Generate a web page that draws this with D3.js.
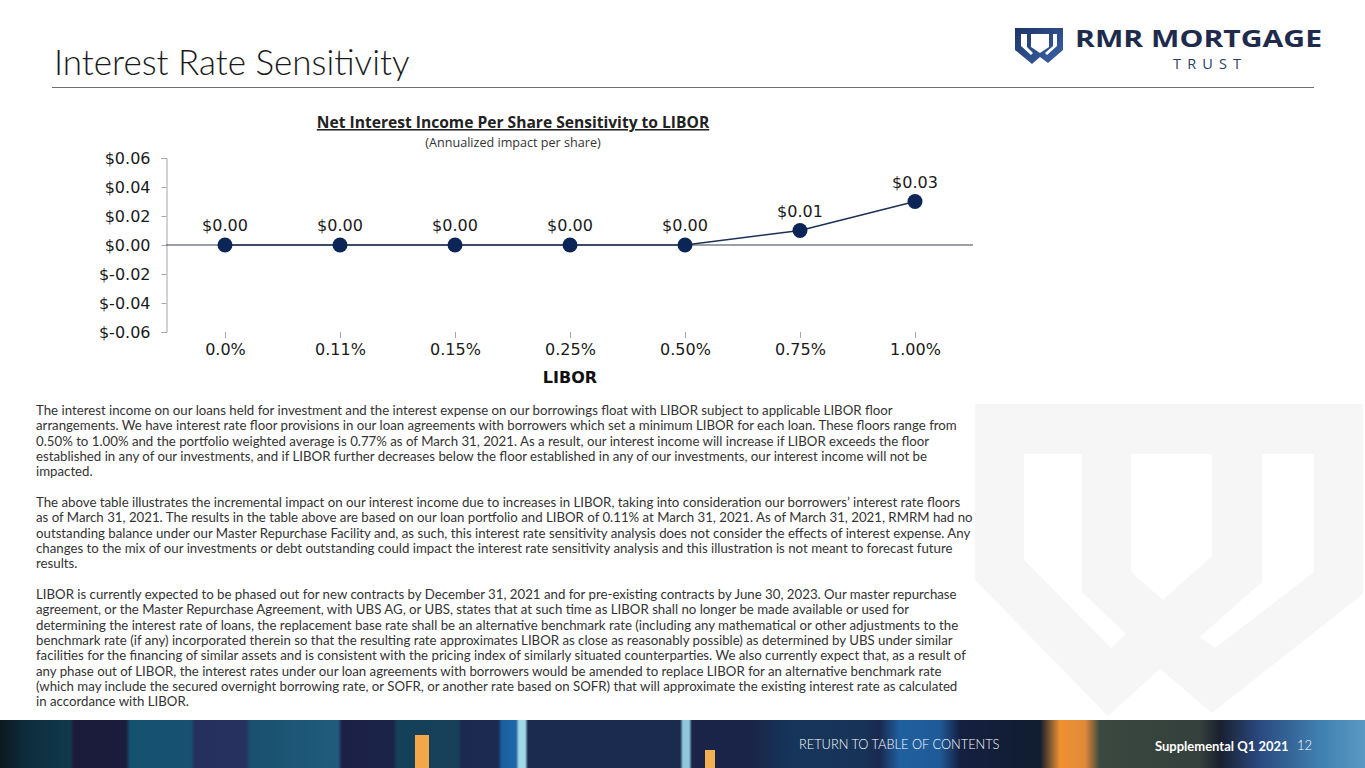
<!DOCTYPE html>
<html lang="en">
<head>
<meta charset="UTF-8">
<title>Interest Rate Sensitivity</title>
<script src="https://cdn.jsdelivr.net/npm/d3@7"></script>
<style>
  html, body { margin: 0; padding: 0; background: #fff; }
  svg { display: block; }
</style>
</head>
<body>
<script>
// chart data
let liborLevels = ['0.0%', '0.11%', '0.15%', '0.25%', '0.50%', '0.75%', '1.00%'];
let nipsValues = [0.00, 0.00, 0.00, 0.00, 0.00, 0.01, 0.03];
let yTicks = [-0.06, -0.04, -0.02, 0.00, 0.02, 0.04, 0.06];

let chartTitle = 'Net Interest Income Per Share Sensitivity to LIBOR';
let chartSubtitle = '(Annualized impact per share)';
let xAxisTitle = 'LIBOR';

let bodyLines = [
  'The interest income on our loans held for investment and the interest expense on our borrowings float with LIBOR subject to applicable LIBOR floor',
  'arrangements. We have interest rate floor provisions in our loan agreements with borrowers which set a minimum LIBOR for each loan. These floors range from',
  '0.50% to 1.00% and the portfolio weighted average is 0.77% as of March 31, 2021. As a result, our interest income will increase if LIBOR exceeds the floor',
  'established in any of our investments, and if LIBOR further decreases below the floor established in any of our investments, our interest income will not be',
  'impacted.',
  '',
  'The above table illustrates the incremental impact on our interest income due to increases in LIBOR, taking into consideration our borrowers\u2019 interest rate floors',
  'as of March 31, 2021. The results in the table above are based on our loan portfolio and LIBOR of 0.11% at March 31, 2021. As of March 31, 2021, RMRM had no',
  'outstanding balance under our Master Repurchase Facility and, as such, this interest rate sensitivity analysis does not consider the effects of interest expense. Any',
  'changes to the mix of our investments or debt outstanding could impact the interest rate sensitivity analysis and this illustration is not meant to forecast future',
  'results.',
  '',
  'LIBOR is currently expected to be phased out for new contracts by December 31, 2021 and for pre-existing contracts by June 30, 2023. Our master repurchase',
  'agreement, or the Master Repurchase Agreement, with UBS AG, or UBS, states that at such time as LIBOR shall no longer be made available or used for',
  'determining the interest rate of loans, the replacement base rate shall be an alternative benchmark rate (including any mathematical or other adjustments to the',
  'benchmark rate (if any) incorporated therein so that the resulting rate approximates LIBOR as close as reasonably possible) as determined by UBS under similar',
  'facilities for the financing of similar assets and is consistent with the pricing index of similarly situated counterparties. We also currently expect that, as a result of',
  'any phase out of LIBOR, the interest rates under our loan agreements with borrowers would be amended to replace LIBOR for an alternative benchmark rate',
  '(which may include the secured overnight borrowing rate, or SOFR, or another rate based on SOFR) that will approximate the existing interest rate as calculated',
  'in accordance with LIBOR.'
];

let width = 1365;
let height = 768;
let navy = '#0b2656';
let labelFont = '"DejaVu Sans", sans-serif';

let svg = d3.select('body').append('svg')
  .attr('width', width)
  .attr('height', height);
let defs = svg.append('defs');

// background watermark shield
let wm = svg.append('g');
wm.append('path')
  .attr('d', 'M975,404 H1363 V594 L1212,713 L1160,669 L1108,716 L975,580 Z')
  .attr('fill', '#f6f6f6');
wm.append('path')
  .attr('d', 'M1024,454 H1082 V592 L1126,634 L1111,648 L1024,560 Z')
  .attr('fill', '#fff');
wm.append('path')
  .attr('d', 'M1131,454 H1212 V556 L1163,600 L1131,572 Z')
  .attr('fill', '#fff');
wm.append('path')
  .attr('d', 'M1262,454 H1314 V572 L1215,648 L1200,637 L1262,582 Z')
  .attr('fill', '#fff');

// page header
svg.append('text')
  .attr('x', 54)
  .attr('y', 75)
  .attr('font-family', 'Lato, sans-serif')
  .attr('font-weight', 300)
  .attr('font-size', 35)
  .attr('fill', '#1a1a1a')
  .text('Interest Rate Sensitivity');

svg.append('line')
  .attr('x1', 52).attr('x2', 1314)
  .attr('y1', 87.5).attr('y2', 87.5)
  .attr('stroke', '#6f6f6f')
  .attr('stroke-width', 1.2);

// logo
let logo = svg.append('g');
let grad = defs.append('linearGradient')
  .attr('id', 'shieldGrad')
  .attr('x1', 0).attr('x2', 1).attr('y1', 0).attr('y2', 1);
grad.append('stop').attr('offset', '0%').attr('stop-color', '#1d3566');
grad.append('stop').attr('offset', '100%').attr('stop-color', '#3b63a8');
logo.append('path')
  .attr('d', 'M1015,28 H1063 V50 L1048,63 L1040,57 L1032,64 L1015,50 Z')
  .attr('fill', 'url(#shieldGrad)');
logo.append('path')
  .attr('d', 'M1021,34 H1027 V47 L1033,53 L1031,55 L1021,46 Z')
  .attr('fill', '#fff');
logo.append('path')
  .attr('d', 'M1031,34 H1049 V47 L1040,53 L1031,47 Z')
  .attr('fill', '#fff');
logo.append('path')
  .attr('d', 'M1053,34 H1057 V46 L1047,55 L1045,53 L1053,46 Z')
  .attr('fill', '#fff');
logo.append('text')
  .attr('x', 1075).attr('y', 47)
  .attr('font-family', '"Open Sans", sans-serif')
  .attr('font-weight', 700)
  .attr('font-size', 24)
  .attr('textLength', 247)
  .attr('lengthAdjust', 'spacingAndGlyphs')
  .attr('fill', '#1f2b4d')
  .text('RMR MORTGAGE');
logo.append('text')
  .attr('x', 1173).attr('y', 69)
  .attr('font-family', '"Open Sans", sans-serif')
  .attr('font-weight', 500)
  .attr('font-size', 14.5)
  .attr('textLength', 68)
  .attr('lengthAdjust', 'spacing')
  .attr('fill', '#2d3d63')
  .text('TRUST');

// chart
let x = d3.scalePoint()
  .domain(liborLevels)
  .range([167.5, 972.5])
  .padding(0.5);
let y = d3.scaleLinear()
  .domain([-0.06, 0.06])
  .range([332, 158]);

let fmt = function (v) {
  let s = Math.abs(v).toFixed(2);
  return v < 0 ? '$-' + s : '$' + s;
};

svg.append('text')
  .attr('x', 513).attr('y', 128)
  .attr('text-anchor', 'middle')
  .attr('font-family', '"Open Sans", sans-serif')
  .attr('font-weight', 700)
  .attr('font-size', 15.6)
  .attr('fill', '#222')
  .attr('text-decoration', 'underline')
  .text(chartTitle);
svg.append('text')
  .attr('x', 513).attr('y', 147)
  .attr('text-anchor', 'middle')
  .attr('font-family', '"Open Sans", sans-serif')
  .attr('font-size', 12.6)
  .attr('fill', '#333')
  .text(chartSubtitle);

let yAxis = d3.axisLeft(y)
  .tickValues(yTicks)
  .tickSize(5)
  .tickPadding(11)
  .tickFormat(fmt);

let yg = svg.append('g')
  .attr('transform', 'translate(166.5,0)')
  .call(yAxis);
yg.select('.domain').attr('stroke', '#a6a6a6');
yg.selectAll('.tick line').attr('stroke', '#a6a6a6');
yg.selectAll('.tick text')
  .attr('font-family', labelFont)
  .attr('font-size', 16)
  .attr('fill', '#1a1a1a');

let xAxis = d3.axisBottom(x)
  .tickSize(6)
  .tickPadding(6);
let xg = svg.append('g')
  .attr('transform', 'translate(0,332)')
  .call(xAxis);
xg.select('.domain').remove();
xg.selectAll('.tick line').attr('stroke', '#a6a6a6');
xg.selectAll('.tick text')
  .attr('font-family', labelFont)
  .attr('font-size', 16)
  .attr('fill', '#1a1a1a');

svg.append('text')
  .attr('x', x(liborLevels[3]))
  .attr('y', 383)
  .attr('text-anchor', 'middle')
  .attr('font-family', labelFont)
  .attr('font-weight', 700)
  .attr('font-size', 16)
  .attr('fill', '#111')
  .text(xAxisTitle);

// zero line
svg.append('line')
  .attr('x1', 166).attr('x2', 973)
  .attr('y1', y(0)).attr('y2', y(0))
  .attr('stroke', '#3a4150')
  .attr('stroke-width', 1.2);

let line = d3.line()
  .x(function (d, i) { return x(liborLevels[i]); })
  .y(function (d) { return y(d); });

svg.append('path')
  .datum(nipsValues)
  .attr('d', line)
  .attr('fill', 'none')
  .attr('stroke', '#1c2f55')
  .attr('stroke-width', 1.4);

svg.selectAll('circle.pt')
  .data(nipsValues)
  .enter()
  .append('circle')
  .attr('class', 'pt')
  .attr('cx', function (d, i) { return x(liborLevels[i]); })
  .attr('cy', function (d) { return y(d); })
  .attr('r', 7.5)
  .attr('fill', navy);

svg.selectAll('text.val')
  .data(nipsValues)
  .enter()
  .append('text')
  .attr('class', 'val')
  .attr('x', function (d, i) { return x(liborLevels[i]); })
  .attr('y', function (d) { return y(d) - 14; })
  .attr('text-anchor', 'middle')
  .attr('font-family', labelFont)
  .attr('font-size', 16)
  .attr('fill', '#1a1a1a')
  .text(fmt);

// body text
let body = svg.append('g')
  .attr('font-family', 'Lato, sans-serif')
  .attr('font-size', 12)
  .attr('fill', '#333');
let bodyText = body.selectAll('text')
  .data(bodyLines)
  .enter()
  .append('text')
  .attr('x', 36)
  .attr('y', function (d, i) { return 415 + i * 15.33; })
  .text(function (d) { return d; });
let firstLen = bodyText.node().getComputedTextLength();
if (firstLen > 0) {
  body.attr('font-size', 12 * 857 / firstLen);
}

// footer band
let fgrad = defs.append('linearGradient')
  .attr('id', 'footGrad')
  .attr('x1', 0).attr('x2', 1).attr('y1', 0).attr('y2', 0);
let footStops = [
  [0, '#0b1820'], [25, '#0d2c3b'], [70, '#0f3a4c'], [74, '#1b1b3a'], [126, '#1b1d3d'],
  [130, '#145070'], [191, '#175273'], [195, '#25305e'], [246, '#26315f'],
  [250, '#1a4f70'], [338, '#1f5c7c'], [342, '#1b2146'], [393, '#1c2348'],
  [397, '#14405a'], [458, '#18405a'], [462, '#1c2850'], [498, '#1c2a52'],
  [502, '#1a60a0'], [516, '#1e68a8'], [519, '#a0d8e8'], [525, '#a0d8e8'],
  [528, '#1b2b50'], [680, '#1b2b50'], [683, '#8fc8dc'], [689, '#8fc8dc'],
  [692, '#1a2448'], [750, '#1a2448'], [790, '#15355a'], [860, '#173458'],
  [880, '#1a2a50'], [900, '#2060a0'], [940, '#1f5a98'], [960, '#152040'],
  [1040, '#101c30'], [1060, '#f09030'], [1085, '#e08a38'], [1100, '#3a4840'],
  [1200, '#34403c'], [1220, '#1a2030'], [1260, '#2a4a80'], [1320, '#4080b0'],
  [1365, '#5a98c4']
];
fgrad.selectAll('stop')
  .data(footStops)
  .enter()
  .append('stop')
  .attr('offset', function (d) { return (d[0] / width * 100) + '%'; })
  .attr('stop-color', function (d) { return d[1]; });

let foot = svg.append('g');
foot.append('rect')
  .attr('x', 0).attr('y', 720)
  .attr('width', width).attr('height', 48)
  .attr('fill', 'url(#footGrad)');
foot.append('rect')
  .attr('x', 415).attr('y', 735)
  .attr('width', 14).attr('height', 33)
  .attr('fill', '#f2a848');
foot.append('rect')
  .attr('x', 705).attr('y', 750)
  .attr('width', 10).attr('height', 18)
  .attr('fill', '#f2b050');

foot.append('text')
  .attr('x', 799).attr('y', 749)
  .attr('font-family', 'Lato, sans-serif')
  .attr('font-weight', 300)
  .attr('font-size', 12.8)
  .attr('fill', '#fff')
  .text('RETURN TO TABLE OF CONTENTS');
foot.append('text')
  .attr('x', 1155).attr('y', 751)
  .attr('font-family', 'Lato, sans-serif')
  .attr('font-weight', 700)
  .attr('font-size', 13)
  .attr('fill', '#fff')
  .text('Supplemental Q1 2021');
foot.append('text')
  .attr('x', 1297).attr('y', 750)
  .attr('font-family', 'Lato, sans-serif')
  .attr('font-weight', 300)
  .attr('font-size', 13)
  .attr('fill', '#fff')
  .text('12');
</script>
</body>
</html>
